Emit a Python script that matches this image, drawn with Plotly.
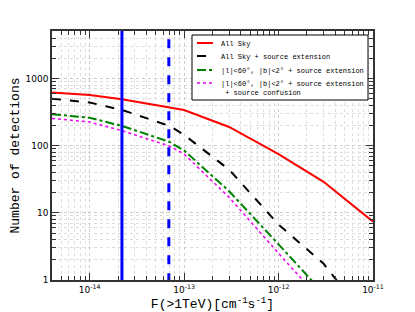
import numpy as np
import plotly.graph_objects as go

flux = [4e-15, 1e-14, 2.2e-14, 7e-14, 1e-13, 3e-13, 1e-12, 3e-12, 1e-11]
all_sky = [620, 570, 490, 375, 340, 190, 75, 29, 7.4]
all_sky_ext = [500, 440, 340, 197, 145, 44, 6.7, 1.75, 0.2]
gal_ext = [295, 260, 197, 114, 85, 21, 3.4, 0.6, 0.1]
gal_ext_conf = [255, 225, 167, 99, 75, 17, 2.5, 0.45, 0.08]
thresholds = [2.2e-14, 6.9e-14]
y_span = [0.5, 8000]

names = ["All Sky", "All Sky + source extension",
         "|l|&lt;60°, |b|&lt;2° + source extension",
         "|l|&lt;60°, |b|&lt;2° + source extension<br> + source confusion"]
styles = [dict(color="#ff0000", width=2),
          dict(color="black", width=2, dash="dash"),
          dict(color="#008000", width=2, dash="dashdot"),
          dict(color="#ee00ee", width=1.5, dash="dot")]
series = [all_sky, all_sky_ext, gal_ext, gal_ext_conf]

fig = go.Figure()
for nm, st, ys in zip(names, styles, series):
    fig.add_trace(go.Scatter(x=flux, y=ys, mode="lines", name=nm, line=st, showlegend=False))
fig.add_trace(go.Scatter(x=[thresholds[0]] * 2, y=y_span, mode="lines", showlegend=False,
                         line=dict(color="#0000ff", width=3)))
fig.add_trace(go.Scatter(x=[thresholds[1]] * 2, y=y_span, mode="lines", showlegend=False,
                         line=dict(color="#0000ff", width=3, dash="dash")))

xmaj = [1e-14, 1e-13, 1e-12, 1e-11]
xlab = ["10<sup>-14</sup>", "10<sup>-13</sup>", "10<sup>-12</sup>", "10<sup>-11</sup>"]
xmin = [m * 10.0 ** e for e in range(-15, -11) for m in range(2, 10)]
ymaj = [1, 10, 100, 1000]
ymin = [m * 10.0 ** e for e in range(0, 4) for m in range(2, 10)]

grid = dict(showgrid=True, gridcolor="#cccccc", griddash="dot", gridwidth=1)
axcommon = dict(type="log", showline=True, linecolor="#333333", linewidth=1.5,
                mirror="allticks", ticks="inside", ticklen=7, tickcolor="#333333",
                tickfont=dict(family="DejaVu Sans", size=9, color="black"),
                zeroline=False, automargin=False, **grid)

fig.update_xaxes(range=[np.log10(4e-15), -11], tickvals=xmaj, ticktext=xlab,
                 minor=dict(tickvals=xmin, ticks="inside", ticklen=4, tickcolor="#333333",
                            showgrid=True, gridcolor="#dddddd", griddash="dot"),
                 title=dict(text="F(&gt;1TeV)[cm<sup>-1</sup>s<sup>-1</sup>]",
                            font=dict(family="Liberation Mono", size=13, color="black")),
                 **axcommon)
fig.update_yaxes(range=[0, np.log10(5100)], tickvals=ymaj, ticktext=["1", "10", "100", "1000"],
                 minor=dict(tickvals=ymin, ticks="inside", ticklen=4, tickcolor="#333333",
                            showgrid=True, gridcolor="#dddddd", griddash="dot"),
                 title=dict(text="Number of detections",
                            font=dict(family="Liberation Mono", size=13, color="black")),
                 **axcommon)

# page offset of 8px (default body margin) is compensated in the margins
OFF = 8
W, H = 415 - OFF, 312 - OFF
L, R, T, B = 52 - OFF, 373 - OFF, 31 - OFF, 280 - OFF
px = lambda x: (x - OFF - L) / (R - L)
py = lambda y: (B - (y - OFF)) / (B - T)
fig.add_shape(type="rect", xref="paper", yref="paper", x0=px(192), x1=px(368),
              y0=py(100), y1=py(35), line=dict(color="black", width=1), fillcolor="white",
              layer="above")
rows = [43, 56, 70, 83]
for nm, st, yr in zip(names, styles, rows):
    fig.add_shape(type="line", xref="paper", yref="paper", x0=px(197), x1=px(213),
                  y0=py(yr), y1=py(yr), line=st, layer="above")
    fig.add_annotation(xref="paper", yref="paper", x=px(219), y=py(yr - 5),
                       xanchor="left", yanchor="top", text=nm, showarrow=False, align="left",
                       font=dict(family="Liberation Mono", size=7, color="black"))

fig.update_layout(
    width=W, height=H,
    margin=dict(l=L, r=W - R, t=T, b=H - B),
    paper_bgcolor="white", plot_bgcolor="white",
)
fig.write_html("out.html")
